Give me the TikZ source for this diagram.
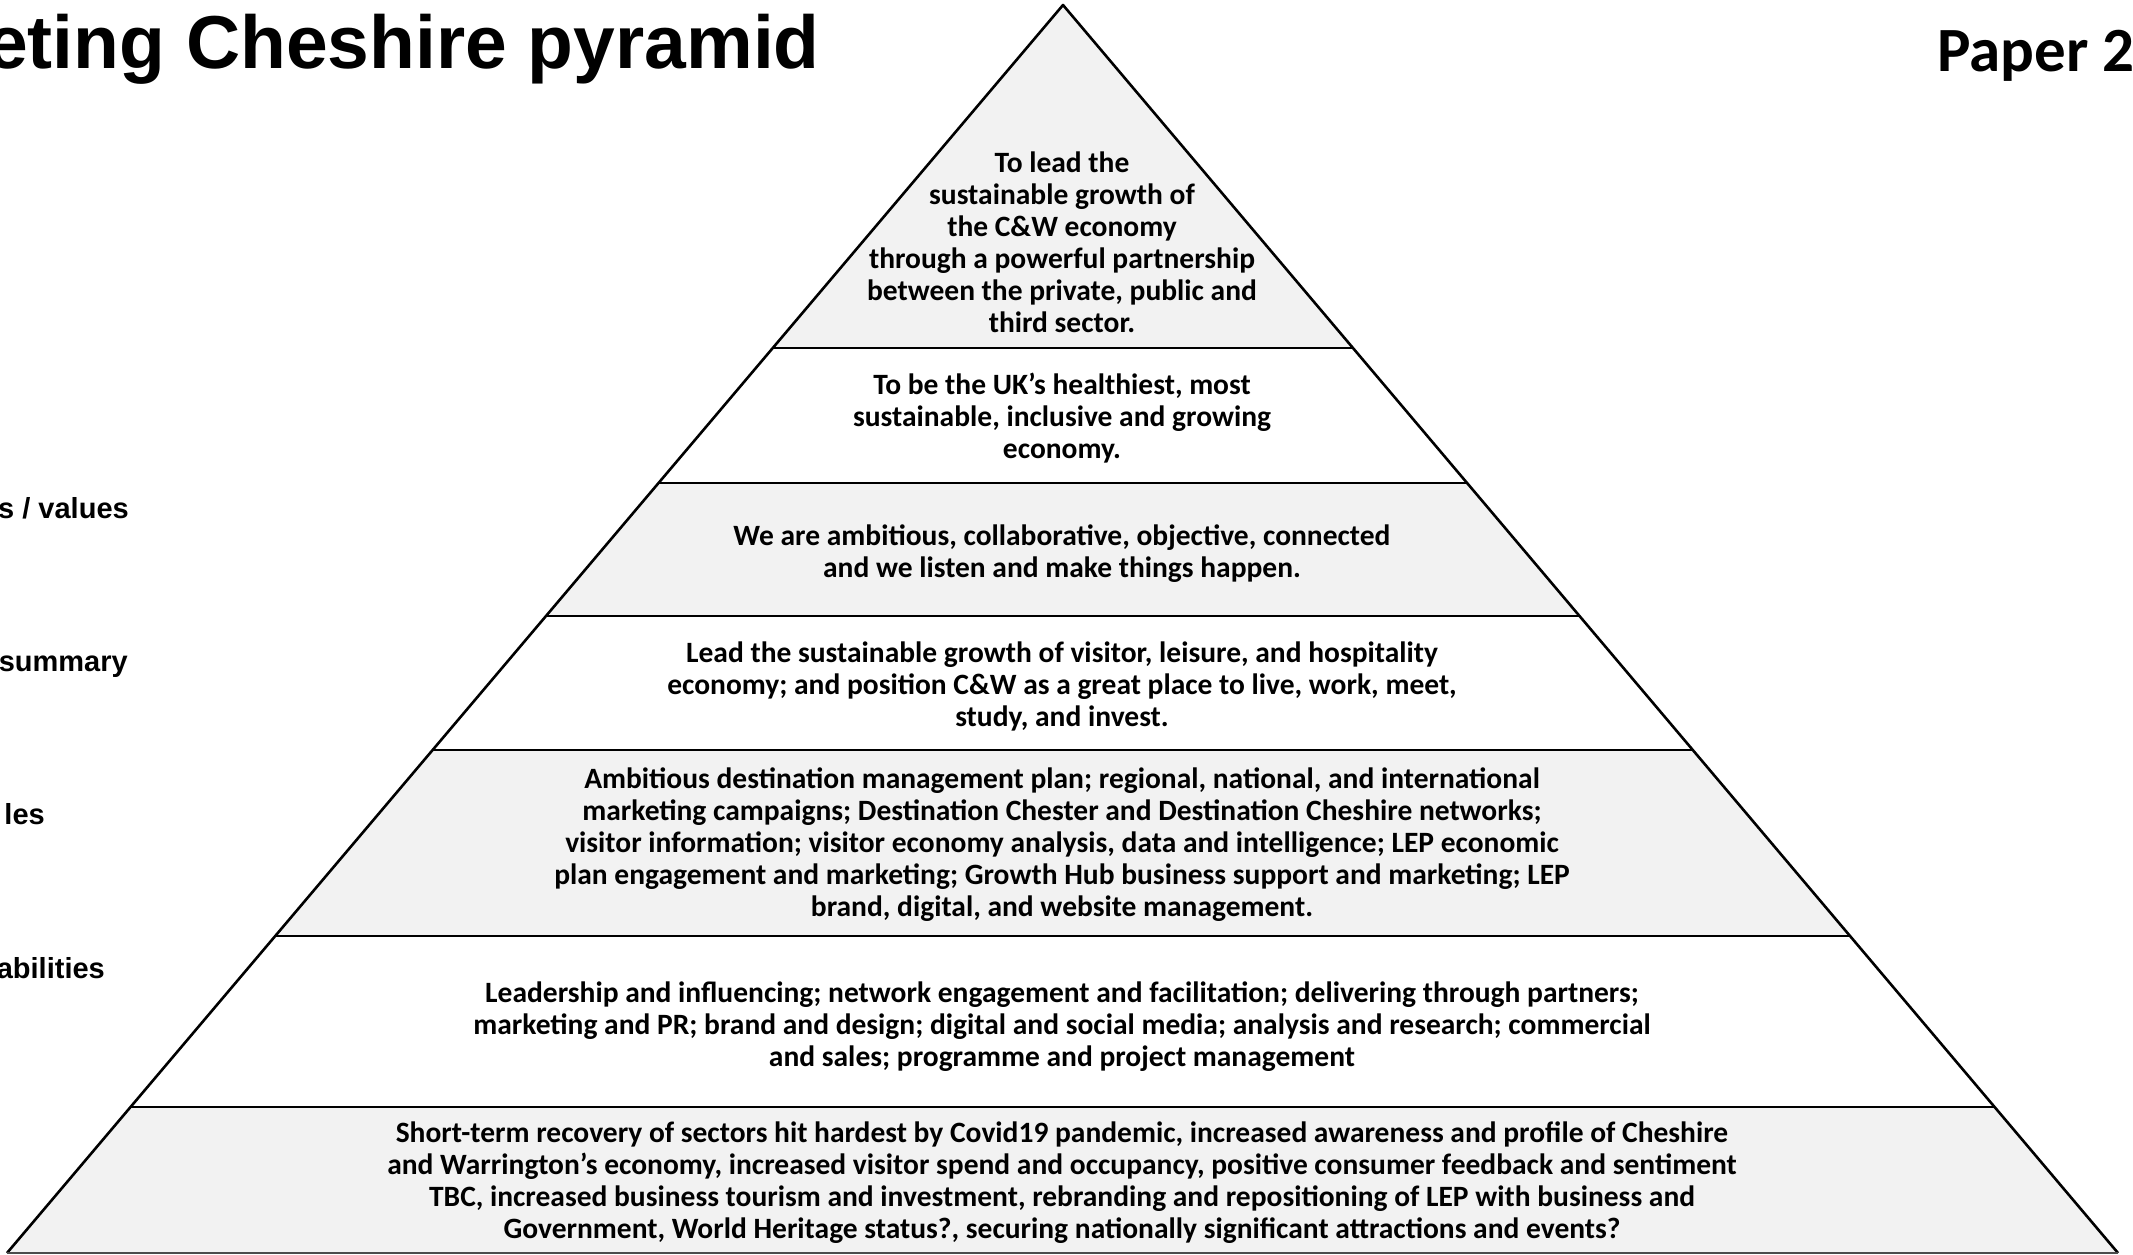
\documentclass[tikz,border=0pt]{standalone}
\usepackage{fontspec}
\setmainfont{Carlito}
\newfontfamily\arialfont{Liberation Sans}
\usetikzlibrary{calc}
\definecolor{tiergray}{HTML}{F2F2F2}
\tikzset{
  tiertext/.style={font=\bfseries\fontsize{29.5}{32}\selectfont, align=center, text=black, inner sep=0pt},
  sidelabel/.style={font=\arialfont\bfseries\fontsize{29}{34}\selectfont, anchor=base east, inner sep=0pt},
  pyrline/.style={line width=2.6pt, draw=black, line join=round},
}
\begin{document}
\begin{tikzpicture}[x=1pt,y=-1pt]
\useasboundingbox (0,0) rectangle (2133,1254);
\clip (0,0) rectangle (2133,1254);
\fill[white] (0,0) rectangle (2133,1254);

\coordinate (A) at (1063,5);
\coordinate (BL) at (7,1253);
\coordinate (BR) at (2118,1253);
\foreach \i/\t in {1/0.2748,2/0.3830,3/0.4896,4/0.5970,5/0.7460,6/0.8830}{
  \coordinate (L\i) at ($(A)!\t!(BL)$);
  \coordinate (R\i) at ($(A)!\t!(BR)$);
}

% shaded tiers
\fill[tiergray] (A) -- (L1) -- (R1) -- cycle;
\fill[tiergray] (L2) -- (L3) -- (R3) -- (R2) -- cycle;
\fill[tiergray] (L4) -- (L5) -- (R5) -- (R4) -- cycle;
\fill[tiergray] (L6) -- (BL) -- (BR) -- (R6) -- cycle;

% outline and dividers
\draw[pyrline] (BL) -- (A) -- (BR);
\foreach \i in {1,...,6}{ \draw[pyrline] (L\i) -- (R\i); }
\draw[line width=2pt, draw=black!70] (BL) -- (BR);

% title and header
\node[font=\arialfont\bfseries\fontsize{75}{90}\selectfont, anchor=base east, inner sep=0pt] (title) at (820,68) {eting Cheshire pyramid};
\node[font=\bfseries\fontsize{63}{75}\selectfont, anchor=base west, inner sep=0pt] (paper) at (1937,71) {Paper 2};

% side labels
\node[sidelabel] (lab1) at (129,518) {s / values};
\node[sidelabel] (lab2) at (128,671) {summary};
\node[sidelabel] (lab3) at (45,824) {les};
\node[sidelabel] (lab4) at (105,978) {abilities};

% tier texts
\node[tiertext] (t1) at (1062,242) {To lead the\\sustainable growth of\\the C\&W economy\\through a powerful partnership\\between the private, public and\\third sector.};
\node[tiertext] (t2) at (1062,418) {To be the UK’s healthiest, most\\sustainable, inclusive and growing\\economy.};
\node[tiertext] (t3) at (1062,554) {We are ambitious, collaborative, objective, connected\\and we listen and make things happen.};
\node[tiertext] (t4) at (1062,686) {Lead the sustainable growth of visitor, leisure, and hospitality\\economy; and position C\&W as a great place to live, work, meet,\\study, and invest.};
\node[tiertext] (t5) at (1062,845) {Ambitious destination management plan; regional, national, and international\\marketing campaigns; Destination Chester and Destination Cheshire networks;\\visitor information; visitor economy analysis, data and intelligence; LEP economic\\plan engagement and marketing; Growth Hub business support and marketing; LEP\\brand, digital, and website management.};
\node[tiertext] (t6) at (1062,1027) {Leadership and influencing; network engagement and facilitation; delivering through partners;\\marketing and PR; brand and design; digital and social media; analysis and research; commercial\\and sales; programme and project management};
\node[tiertext] (t7) at (1062,1183) {Short-term recovery of sectors hit hardest by Covid19 pandemic, increased awareness and profile of Cheshire\\and Warrington’s economy, increased visitor spend and occupancy, positive consumer feedback and sentiment\\TBC, increased business tourism and investment, rebranding and repositioning of LEP with business and\\Government, World Heritage status?, securing nationally significant attractions and events?};
\end{tikzpicture}
\end{document}
